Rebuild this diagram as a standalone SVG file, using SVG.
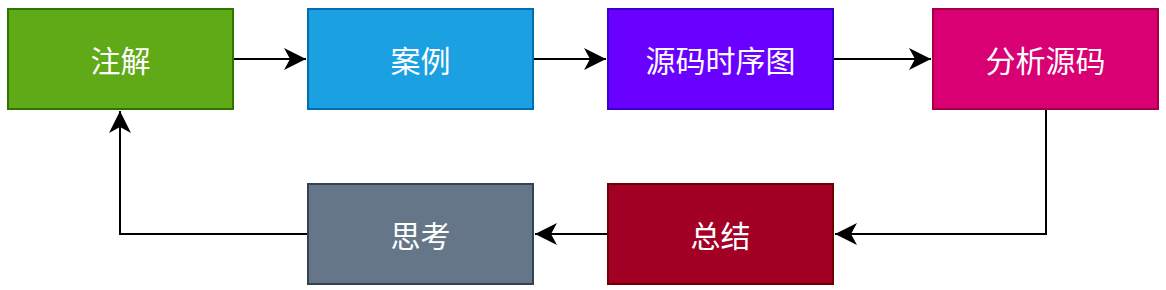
<svg xmlns="http://www.w3.org/2000/svg" width="1166" height="290" viewBox="0 0 1166 290">
<defs>
<style>
.box{stroke-width:2}
.lbl{font-family:"Noto Sans CJK SC","Noto Sans",sans-serif;font-size:30px;fill:#ffffff;text-anchor:middle;dominant-baseline:central}
.edge{fill:none;stroke:#000000;stroke-width:2}
</style>
<marker id="arr" markerUnits="userSpaceOnUse" markerWidth="24" markerHeight="26" viewBox="-22 -12 24 24" refX="0" refY="0" orient="auto">
<path d="M0,0 L-22,-11 L-16,0 L-22,11 Z" fill="#000000"/>
</marker>
</defs>
<rect width="1166" height="290" fill="#ffffff"/>
<g id="connectors">
<path class="edge" d="M233,59 L306,59" marker-end="url(#arr)"/>
<path class="edge" d="M533,59 L606,59" marker-end="url(#arr)"/>
<path class="edge" d="M833,59 L931,59" marker-end="url(#arr)"/>
<path class="edge" d="M1046,109 L1046,234 L835,234" marker-end="url(#arr)"/>
<path class="edge" d="M608,234 L535,234" marker-end="url(#arr)"/>
<path class="edge" d="M308,234 L120,234 L120,111" marker-end="url(#arr)"/>
</g>
<g id="n1"><rect class="box" x="8" y="9" width="225" height="100" fill="#60a917" stroke="#2d7600"/><text class="lbl" x="120.5" y="59">注解</text></g>
<g id="n2"><rect class="box" x="308" y="9" width="225" height="100" fill="#1ba1e2" stroke="#006eaf"/><text class="lbl" x="420.5" y="59">案例</text></g>
<g id="n3"><rect class="box" x="608" y="9" width="225" height="100" fill="#6a00ff" stroke="#3700cc"/><text class="lbl" x="720.5" y="59">源码时序图</text></g>
<g id="n4"><rect class="box" x="933" y="9" width="225" height="100" fill="#d80073" stroke="#a50040"/><text class="lbl" x="1045.5" y="59">分析源码</text></g>
<g id="n5"><rect class="box" x="608" y="184" width="225" height="100" fill="#a20025" stroke="#6f0000"/><text class="lbl" x="720.5" y="234">总结</text></g>
<g id="n6"><rect class="box" x="308" y="184" width="225" height="100" fill="#647687" stroke="#314354"/><text class="lbl" x="420.5" y="234">思考</text></g>
</svg>
